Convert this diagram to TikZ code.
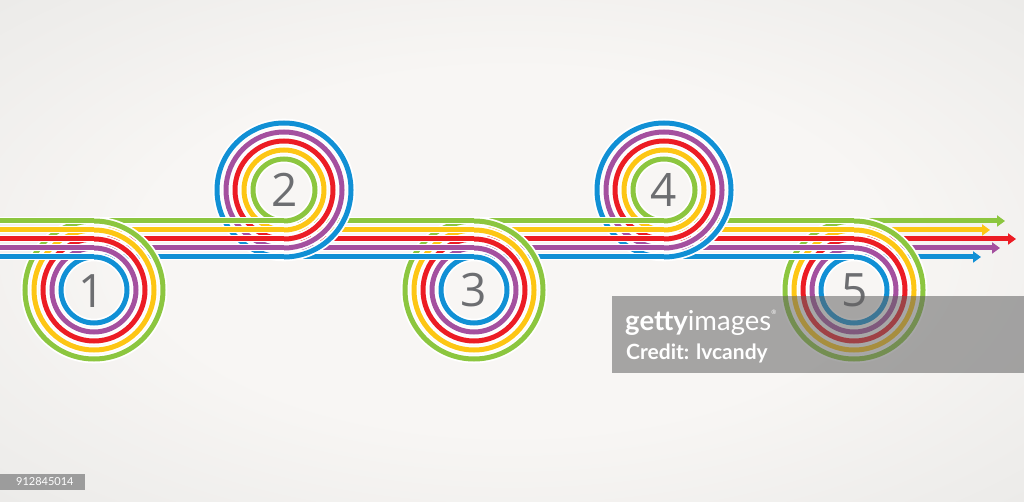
\documentclass[tikz,border=0pt]{standalone}
\usepackage{fontspec}
\setmainfont{Open Sans}
\newfontfamily\numfont{Open Sans}
\newfontfamily\latofont{Lato}
\usetikzlibrary{arrows.meta}
\definecolor{lgreen}{HTML}{8CC63F}
\definecolor{lyellow}{HTML}{FDC614}
\definecolor{lred}{HTML}{EC1C24}
\definecolor{lpurple}{HTML}{A4509F}
\definecolor{lblue}{HTML}{1190D5}
\definecolor{numgray}{HTML}{6D6E71}
\definecolor{bgin}{HTML}{F8F6F4}
\definecolor{bgmid}{HTML}{E3E3E1}
\definecolor{bgout}{HTML}{D3D3D3}
\definecolor{idgray}{HTML}{9C9C9C}
\pgfdeclareradialshading{bgshade}{\pgfpoint{0bp}{0bp}}{color(0bp)=(bgin); color(18bp)=(bgin); color(48bp)=(bgmid); color(71bp)=(bgout)}
\tikzset{
  band/.style={line width=5pt},
  bandcase/.style={line width=7pt, draw=white},
  ringcase/.style={line width=8.6pt, draw=white},
  numlabel/.style={font=\numfont\fontsize{46}{46}\selectfont, text=numgray, inner sep=0pt},
  tipstyle/.style={-{Triangle[length=8pt,width=11pt]}},
}
\newcommand\bandseg[2]{%
  \foreach \yy in {221,230,239,248,257} \draw[bandcase] (#1,\yy) -- (#2,\yy);
  \foreach \cc/\yy in {lgreen/221,lyellow/230,lred/239,lpurple/248,lblue/257} \draw[band,draw=\cc] (#1,\yy) -- (#2,\yy);
}
\newcommand\ringset[2]{%
  \foreach \yy in {221,230,239,248,257} {\pgfmathsetmacro\rr{abs(\yy-#2)}\draw[ringcase] (#1,#2) circle[radius=\rr pt];}
  \foreach \cc/\yy in {lgreen/221,lyellow/230,lred/239,lpurple/248,lblue/257} {\pgfmathsetmacro\rr{abs(\yy-#2)}\draw[band,draw=\cc] (#1,#2) circle[radius=\rr pt];}
}
\begin{document}
\begin{tikzpicture}[x=1pt,y=-1pt]
\useasboundingbox (0,0) rectangle (1024,502);
\shade[shading=bgshade] (0,0) rectangle (1024,502);
% last segment with arrows
\foreach \cc/\yy/\xe in {lgreen/221/1005,lyellow/230/990,lred/239/1016,lpurple/248/1000,lblue/257/981}
  \draw[band,draw=\cc,tipstyle] (854,\yy) -- (\xe,\yy);
\ringset{854}{290}
\bandseg{664}{854}
\ringset{664}{190}
\bandseg{474}{664}
\ringset{474}{290}
\bandseg{284}{474}
\ringset{284}{190}
\bandseg{94}{284}
\ringset{94}{290}
\bandseg{0}{94}
% numbers
\node[numlabel] (n1) at (92,291) {1};
\node[numlabel] (n2) at (285,190) {2};
\node[numlabel] (n3) at (474,290) {3};
\node[numlabel] (n4) at (664,190) {4};
\node[numlabel] (n5) at (855,290) {5};
% watermark
\fill[black!62,opacity=0.55] (612,296) rectangle (1024,373);
\node[anchor=base west,inner sep=0pt,text=white,font=\latofont\fontsize{27.5}{27.5}\selectfont] (wm1) at (625,330) {\textbf{getty}images\raisebox{1.1ex}{\fontsize{6}{6}\selectfont ®}};
\node[anchor=base west,inner sep=0pt,text=white,font=\latofont\bfseries\fontsize{21}{21}\selectfont] (wm2) at (626,359) {Credit: lvcandy};
% id label
\fill[idgray] (0,474) rectangle (85,490);
\node[anchor=west,inner sep=0pt,text=white,font=\latofont\fontsize{11}{11}\selectfont] (id) at (16,482) {912845014};
\end{tikzpicture}
\end{document}
